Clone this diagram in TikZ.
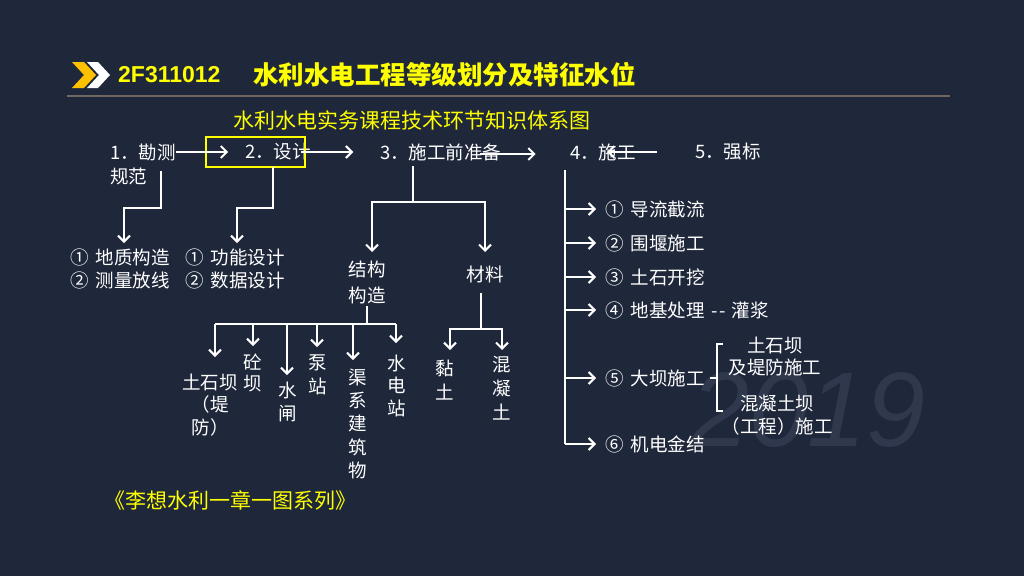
\documentclass[tikz,border=0pt]{standalone}
\usepackage{fontspec}
\setmainfont{Noto Sans CJK SC}
\newfontfamily\latinfont{Liberation Sans}
\usetikzlibrary{arrows.meta}
\definecolor{bg}{RGB}{31,40,59}
\definecolor{ttl}{RGB}{255,255,0}
\definecolor{chev}{RGB}{255,192,0}
\definecolor{rulec}{RGB}{112,104,96}
\definecolor{wm}{RGB}{47,56,76}
\newcommand{\cs}{\hspace{0.38em}}
\begin{document}
\begin{tikzpicture}[x=1pt,y=-1pt,
  lbl/.style={text=white,font=\fontsize{18.5}{23}\selectfont,inner sep=0pt,anchor=west},
  col/.style={text=white,font=\fontsize{18.5}{23}\selectfont,inner sep=0pt,anchor=north,align=center},
  ln/.style={draw=white,line width=2pt,line join=miter},
  arr/.style={ln,-{Straight Barb[length=6pt,width=12pt]}},
  yel/.style={text=ttl,inner sep=0pt,anchor=west},
]
\fill[bg] (0,0) rectangle (1024,576);
\useasboundingbox (0,0) rectangle (1024,576);

% watermark
\node[text=wm,inner sep=0pt,font=\latinfont\itshape\fontsize{106}{106}\selectfont] (wm) at (808,410) {2019};

% header
\fill[white] (87,62) -- (98,62) -- (110,75) -- (98,88) -- (87,88) -- (99,75) -- cycle;
\fill[chev] (72,62) -- (84,62) -- (96,75) -- (84,88) -- (72,88) -- (84,75) -- cycle;
\node[yel,font=\latinfont\bfseries\fontsize{23}{23}\selectfont] (code) at (118,75) {2F311012};
\node[yel,font=\bfseries\fontsize{25.5}{25.5}\selectfont] (title) at (253,75) {水利水电工程等级划分及特征水位};
\draw[rulec,line width=2pt] (67,96) -- (950,96);
\node[yel,font=\fontsize{21}{21}\selectfont] (sub) at (233,120) {水利水电实务课程技术环节知识体系图};

% main row
\node[lbl] (n1) at (110,152) {1．勘测};
\node[lbl] (n1b) at (110,176) {规范};
\node[lbl] (n2) at (245,152) {2．设计};
\node[lbl] (n3) at (380,152) {3．施工前准备};
\node[lbl] (n4) at (570,152) {4．施工};
\node[lbl] (n5) at (695,152) {5．强标};
\node[draw=ttl,line width=2.5pt,minimum width=99pt,minimum height=30pt,inner sep=0pt] (box) at (255.5,152) {};

\draw[arr] (n1.east) -- ++(52,0);
\draw[arr] ([xshift=-5pt]box.east) -- ++(52,0);
\draw[arr] ([xshift=-22pt,yshift=-2pt]n3.east) -- ++(56,0);
\draw[arr] ([xshift=-38pt]n5.west) -- ([xshift=37pt]n4.west);

% branch 1 and 2
\node[lbl] (g1) at (70,257) {①\cs 地质构造};
\node[lbl] (g2) at (70,280) {②\cs 测量放线};
\node[lbl] (h1) at (185,257) {①\cs 功能设计};
\node[lbl] (h2) at (185,280) {②\cs 数据设计};
\coordinate (c1) at (161,171);
\coordinate (t1) at (124,243);
\draw[arr] (c1) -- (161,208) -| (t1);
\coordinate (c2) at (273,167);
\coordinate (t2) at (237,243);
\draw[arr] (c2) -- (273,208) -| (t2);

% branch 3
\node[col,font=\fontsize{18.5}{26}\selectfont] (jg) at (367,260.5) {结构\\构造};
\node[lbl,anchor=center] (cl) at (485,274) {材料};
\coordinate (c3) at (413,166);
\coordinate (j3) at (413,202);
\draw[ln] (c3) -- (j3);
\draw[arr] (j3) -| (372,252);
\draw[arr] (j3) -| (485,252);

% structure sub-items
\node[col,font=\fontsize{18.5}{22.5}\selectfont] (s1) at (210,373.5) {土石坝\\（堤\\防）};
\node[col,font=\fontsize{18.5}{21}\selectfont] (s2) at (253,353.5) {砼\\坝};
\node[col] (s3) at (288,381.5) {水\\闸};
\node[col,font=\fontsize{18.5}{24}\selectfont] (s4) at (318,354.5) {泵\\站};
\node[col,font=\fontsize{18.5}{23.3}\selectfont] (s5) at (358,368.5) {渠\\系\\建\\筑\\物};
\node[col,font=\fontsize{18.5}{22.5}\selectfont] (s6) at (397,354.5) {水\\电\\站};
\coordinate (c4) at (367,306);
\coordinate (j4) at (367,324);
\draw[ln] (c4) -- (j4);
\draw[ln] (215,324) -- (396,324);
\draw[arr] (215,324) -- (215,357);
\draw[arr] (253,324) -- (253,346);
\draw[arr] (287,324) -- (287,375);
\draw[arr] (317,324) -- (317,347);
\draw[arr] (353,324) -- (353,360);
\draw[arr] (396,324) -- (396,343);

% material sub-items
\node[col,font=\fontsize{18.5}{24}\selectfont] (m1) at (445,359.5) {黏\\土};
\node[col,font=\fontsize{18.5}{24}\selectfont] (m2) at (502,356.5) {混\\凝\\土};
\coordinate (c5) at (481,293);
\coordinate (j5) at (481,329);
\draw[ln] (c5) -- (j5);
\draw[arr] (j5) -| (450,350);
\draw[arr] (j5) -| (502,350);

% branch 4
\node[lbl] (k1) at (605,209) {①\cs 导流截流};
\node[lbl] (k2) at (605,243) {②\cs 围堰施工};
\node[lbl] (k3) at (605,277) {③\cs 土石开挖};
\node[lbl] (k4) at (605,310) {④\cs 地基处理\hspace{0.35em}-\hspace{0.12em}-\hspace{0.3em}灌浆};
\node[lbl] (k5) at (605,378) {⑤\cs 大坝施工};
\node[lbl] (k6) at (605,444) {⑥\cs 机电金结};
\coordinate (c6) at (565,170);
\draw[ln] (c6) -- (565,444);
\foreach \k in {k1,k2,k3,k4,k5,k6}{
  \draw[arr] (565,0 |- \k.west) -- ([xshift=-9pt]\k.west);
}

% dam bracket
\node[col,font=\fontsize{18.5}{22}\selectfont] (d1) at (775,336.5) {土石坝\\及堤防施工};
\node[col] (d2) at (777,394.5) {混凝土坝\\（工程）施工};
\draw[ln] ([xshift=5pt]k5.east) -- (717,378);
\draw[ln] (723,344) -- (717,344) -- (717,411) -- (723,411);

% footer
\node[yel,font=\fontsize{21}{21}\selectfont] (foot) at (104,500) {《李想水利一章一图系列》};
\end{tikzpicture}
\end{document}
